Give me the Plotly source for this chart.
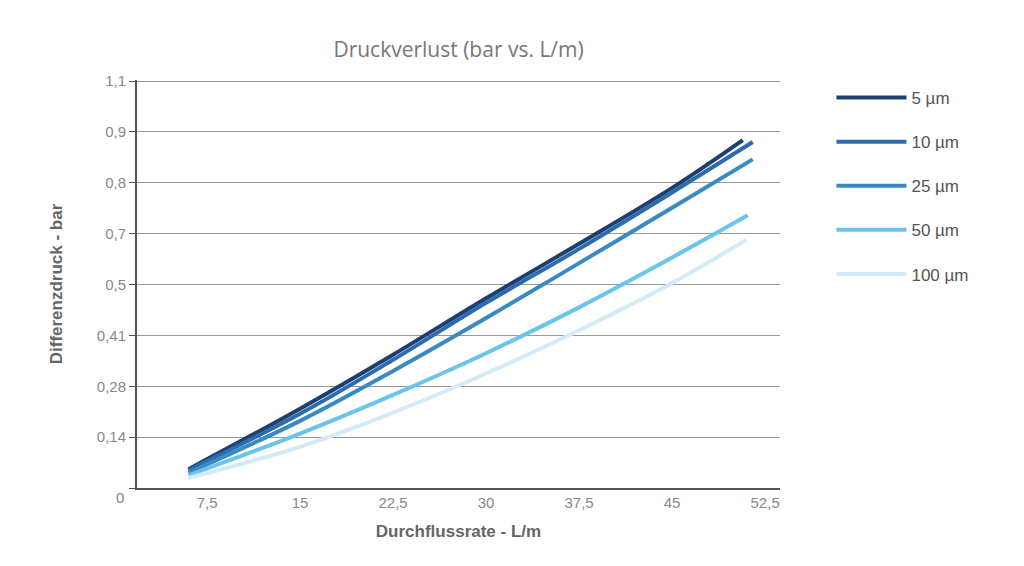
import plotly.graph_objects as go

# x in L/m, y in tick index (axis labels are unevenly spaced in the original)
x = [6, 15, 22.5, 30, 37.5, 45, 51]
series = {
    "5 µm":   [0.37, 1.56, 2.62, 3.73, 4.8, 5.9, 6.84],
    "10 µm":  [0.35, 1.46, 2.52, 3.64, 4.7, 5.81, 6.8],
    "25 µm":  [0.30, 1.32, 2.3, 3.34, 4.42, 5.51, 6.46],
    "50 µm":  [0.25, 1.07, 1.83, 2.65, 3.55, 4.53, 5.36],
    "100 µm": [0.20, 0.81, 1.48, 2.25, 3.1, 4.03, 4.88],
}
ends = [50.7, 51.5, 51.5, 51.1, 51.0]
colors = ["#1d3e6e", "#2b6cb0", "#3a8ac2", "#6cc4ea", "#d3eaf7"]
ytext = ["", "0,14", "0,28", "0,41", "0,5", "0,7", "0,8", "0,9", "1,1"]
xticks = [7.5, 15, 22.5, 30, 37.5, 45, 52.5]

fig = go.Figure()
for (name, ys), c, e in zip(series.items(), colors, ends):
    xs = x[:-1] + [e]
    fig.add_trace(go.Scatter(x=xs, y=ys, name=name, mode="lines", legendgroup=name,
                             line=dict(color=c, width=4, shape="spline")))

grey = "#666"
fig.update_layout(
    width=1024, height=566, plot_bgcolor="white", paper_bgcolor="white",
    margin=dict(l=129, r=252, t=72, b=86),
    title=dict(text="Druckverlust (bar vs. L/m)", x=0.44, y=0.94,
               font=dict(size=21, color="#777", family="Open Sans")),
    font=dict(family="Liberation Sans", color=grey, size=15),
    legend=dict(x=1.08, y=1.0, font=dict(size=17, color="#555"),
                tracegroupgap=19, itemwidth=70),
    showlegend=True,
)
fig.update_xaxes(range=[1.85, 53.7], tickvals=xticks,
                 ticktext=[str(v).replace(".", ",") for v in xticks],
                 showgrid=False, showline=True, linecolor="#555", linewidth=2,
                 ticks="", tickfont=dict(size=15, color="#888"),
                 title=dict(text="<b>Durchflussrate - L/m</b>",
                            font=dict(size=17, color=grey)))
fig.update_yaxes(range=[0, 8.02], tickvals=list(range(9)), ticktext=ytext,
                 showgrid=True, gridcolor="#999", gridwidth=1,
                 showline=True, linecolor="#555", linewidth=2, zeroline=False,
                 ticks="outside", ticklen=6, tickcolor="#555",
                 tickfont=dict(size=15, color="#888"),
                 title=dict(text="<b>Differenzdruck - bar</b>",
                            font=dict(size=17, color=grey), standoff=30))
fig.add_annotation(x=-0.036, y=-0.05, xref="paper", yref="paper", text="0",
                   showarrow=False, font=dict(size=15, color="#888"))
fig.write_html("out.html")
